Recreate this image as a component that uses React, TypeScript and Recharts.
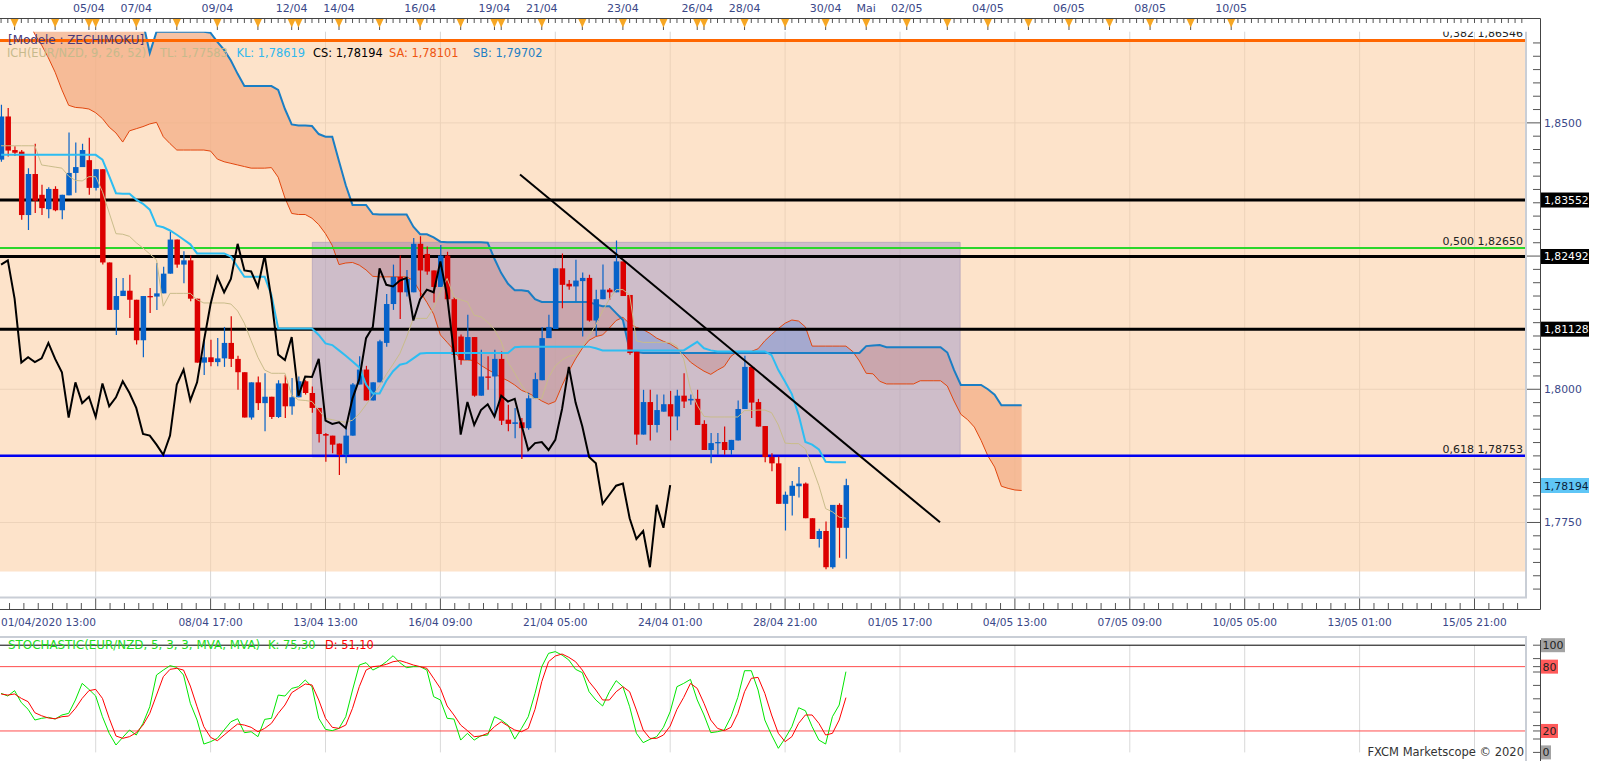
import React from 'react';
import {
  ComposedChart,
  Bar,
  Line,
  Area,
  XAxis,
  YAxis,
  ReferenceLine,
  ReferenceArea,
} from 'recharts';

// ---------- candles (4h bars, EUR/NZD) ----------
const OPEN = [
  1.8431, 1.8512, 1.8449, 1.8446, 1.8327, 1.8404, 1.8365, 1.8338, 1.8376, 1.8336,
  1.8364, 1.8406, 1.8417, 1.8430, 1.8378, 1.8413, 1.8238, 1.8149, 1.8175, 1.8185,
  1.8168, 1.8092, 1.8175, 1.8174, 1.8180, 1.8217, 1.8281, 1.8234, 1.8242, 1.8170,
  1.8050, 1.8060, 1.8051, 1.8058, 1.8087, 1.8057, 1.8032, 1.7947, 1.8013, 1.7974,
  1.7986, 1.7948, 1.8011, 1.7968, 1.7985, 1.8015, 1.7993, 1.7965, 1.7916, 1.7913,
  1.7898, 1.7877, 1.7913, 1.8009, 1.8037, 1.7979, 1.8013, 1.8087, 1.8160, 1.8211,
  1.8182, 1.8182, 1.8273, 1.8254, 1.8223, 1.8192, 1.8251, 1.8169, 1.8099, 1.8055,
  1.8098, 1.7988, 1.8024, 1.8024, 1.8057, 1.7943, 1.7935, 1.7938, 1.7927, 1.7983,
  1.8017, 1.8096, 1.8113, 1.8227, 1.8198, 1.8193, 1.8203, 1.8209, 1.8129, 1.8169,
  1.8187, 1.8182, 1.8240, 1.8177, 1.8071, 1.7915, 1.7976, 1.7933, 1.7958, 1.7972,
  1.7949, 1.7988, 1.7979, 1.7982, 1.7935, 1.7886, 1.7899, 1.7901, 1.7886, 1.7904,
  1.7963, 1.8042, 1.7976, 1.7931, 1.7873, 1.7861, 1.7785, 1.7800, 1.7818, 1.7823,
  1.7758, 1.7719, 1.7734, 1.7666, 1.7783, 1.7740,
];
const HIGH = [
  1.8534, 1.8528, 1.8456, 1.8449, 1.8415, 1.8461, 1.8384, 1.8379, 1.8381, 1.8365,
  1.8482, 1.8463, 1.8461, 1.8472, 1.8413, 1.8413, 1.8238, 1.8209, 1.8209, 1.8215,
  1.8168, 1.8175, 1.8190, 1.8237, 1.8230, 1.8296, 1.8281, 1.8259, 1.8251, 1.8170,
  1.8093, 1.8093, 1.8096, 1.8117, 1.8137, 1.8063, 1.8032, 1.8013, 1.8024, 1.8030,
  1.7986, 1.8017, 1.8027, 1.8021, 1.8024, 1.8017, 1.8005, 1.7965, 1.7918, 1.7913,
  1.7898, 1.7930, 1.8012, 1.8062, 1.8044, 1.8013, 1.8093, 1.8179, 1.8234, 1.8251,
  1.8224, 1.8284, 1.8287, 1.8268, 1.8223, 1.8271, 1.8258, 1.8173, 1.8103, 1.8140,
  1.8098, 1.8074, 1.8062, 1.8074, 1.8071, 1.7971, 1.7965, 1.7946, 1.7993, 1.8031,
  1.8117, 1.8140, 1.8227, 1.8255, 1.8205, 1.8243, 1.8219, 1.8215, 1.8187, 1.8234,
  1.8190, 1.8279, 1.8240, 1.8177, 1.8071, 1.7999, 1.7999, 1.7990, 1.7990, 1.7997,
  1.7999, 1.8030, 1.7990, 1.7999, 1.7942, 1.7918, 1.7918, 1.7930, 1.7905, 1.7979,
  1.8063, 1.8044, 1.7982, 1.7931, 1.7880, 1.7874, 1.7808, 1.7828, 1.7854, 1.7825,
  1.7758, 1.7738, 1.7752, 1.7783, 1.7786, 1.7832,
];
const LOW = [
  1.8427, 1.8437, 1.8438, 1.8318, 1.8299, 1.8331, 1.8327, 1.8321, 1.8334, 1.8319,
  1.8364, 1.8369, 1.8417, 1.8365, 1.8373, 1.8234, 1.8149, 1.8102, 1.8175, 1.8134,
  1.8084, 1.8060, 1.8143, 1.8149, 1.8180, 1.8217, 1.8228, 1.8199, 1.8165, 1.8050,
  1.8027, 1.8043, 1.8043, 1.8042, 1.8042, 1.7999, 1.7947, 1.7943, 1.7961, 1.7921,
  1.7944, 1.7946, 1.7946, 1.7952, 1.7985, 1.7990, 1.7956, 1.7900, 1.7864, 1.7880,
  1.7839, 1.7861, 1.7913, 1.8009, 1.7979, 1.7979, 1.8013, 1.8080, 1.8149, 1.8132,
  1.8174, 1.8182, 1.8174, 1.8215, 1.8163, 1.8192, 1.8164, 1.8059, 1.8046, 1.8055,
  1.7986, 1.7988, 1.7999, 1.7949, 1.7933, 1.7921, 1.7908, 1.7869, 1.7924, 1.7983,
  1.8017, 1.8096, 1.8113, 1.8152, 1.8187, 1.8165, 1.8099, 1.8127, 1.8100, 1.8169,
  1.8168, 1.8182, 1.8175, 1.8065, 1.7896, 1.7915, 1.7904, 1.7919, 1.7958, 1.7904,
  1.7923, 1.7965, 1.7971, 1.7933, 1.7886, 1.7861, 1.7877, 1.7877, 1.7877, 1.7904,
  1.7963, 1.7946, 1.7930, 1.7863, 1.7846, 1.7785, 1.7735, 1.7763, 1.7797, 1.7758,
  1.7719, 1.7703, 1.7662, 1.7663, 1.7684, 1.7682,
];
const CLOSE = [
  1.8512, 1.8448, 1.8444, 1.8327, 1.8404, 1.8354, 1.8340, 1.8376, 1.8336, 1.8365,
  1.8406, 1.8417, 1.8449, 1.8378, 1.8413, 1.8238, 1.8149, 1.8175, 1.8185, 1.8168,
  1.8092, 1.8175, 1.8173, 1.8180, 1.8217, 1.8281, 1.8234, 1.8242, 1.8170, 1.8050,
  1.8060, 1.8051, 1.8058, 1.8087, 1.8057, 1.8032, 1.7947, 1.8013, 1.7974, 1.7986,
  1.7948, 1.8011, 1.7968, 1.7985, 1.8015, 1.7993, 1.7965, 1.7916, 1.7913, 1.7896,
  1.7877, 1.7913, 1.8009, 1.8037, 1.7979, 1.8013, 1.8090, 1.8160, 1.8211, 1.8182,
  1.8207, 1.8273, 1.8223, 1.8221, 1.8192, 1.8251, 1.8169, 1.8065, 1.8055, 1.8098,
  1.7988, 1.8024, 1.8023, 1.8057, 1.7941, 1.7935, 1.7938, 1.7927, 1.7983, 1.8019,
  1.8096, 1.8117, 1.8227, 1.8196, 1.8193, 1.8204, 1.8209, 1.8129, 1.8169, 1.8187,
  1.8182, 1.8240, 1.8175, 1.8068, 1.7915, 1.7976, 1.7933, 1.7961, 1.7972, 1.7949,
  1.7988, 1.7977, 1.7982, 1.7933, 1.7886, 1.7899, 1.7901, 1.7886, 1.7905, 1.7963,
  1.8042, 1.7975, 1.7930, 1.7873, 1.7861, 1.7785, 1.7802, 1.7819, 1.7823, 1.7758,
  1.7719, 1.7734, 1.7666, 1.7783, 1.7740, 1.7820,
];

// ---------- ichimoku lines ----------
const TENKAN = [
  1.8457, 1.8457, 1.8457, 1.8457, 1.8457, 1.8457, 1.8421, 1.8419, 1.8417, 1.8415,
  1.8400, 1.8392, 1.8391, 1.8399, 1.8399, 1.8371, 1.8331, 1.8292, 1.8291, 1.8287,
  1.8275, 1.8265, 1.8254, 1.8243, 1.8156, 1.8180, 1.8180, 1.8180, 1.8180, 1.8168,
  1.8162, 1.8162, 1.8162, 1.8162, 1.8160, 1.8147, 1.8124, 1.8091, 1.8060, 1.8036,
  1.8030, 1.8030, 1.8030, 1.7989, 1.7980, 1.7979, 1.7977, 1.7961, 1.7945, 1.7943,
  1.7940, 1.7938, 1.7942, 1.7954, 1.7971, 1.7988, 1.8007, 1.8028, 1.8047, 1.8067,
  1.8098, 1.8133, 1.8133, 1.8133, 1.8153, 1.8183, 1.8208, 1.8173, 1.8168, 1.8164,
  1.8139, 1.8136, 1.8126, 1.8112, 1.8089, 1.8051, 1.8030, 1.8008, 1.7990, 1.7982,
  1.7983, 1.8022, 1.8044, 1.8055, 1.8062, 1.8064, 1.8080, 1.8100, 1.8121, 1.8147,
  1.8169, 1.8187, 1.8187, 1.8177, 1.8091, 1.8088, 1.8088, 1.8088, 1.8088, 1.8088,
  1.8081, 1.8057, 1.8000, 1.7970, 1.7949, 1.7948, 1.7948, 1.7948, 1.7948, 1.7948,
  1.7960, 1.7960, 1.7961, 1.7961, 1.7956, 1.7933, 1.7899, 1.7898, 1.7898, 1.7888,
  1.7854, 1.7819, 1.7776, 1.7770, 1.7760, 1.7758,
];
const KIJUN = [
  1.8440, 1.8440, 1.8440, 1.8440, 1.8440, 1.8440, 1.8440, 1.8440, 1.8440, 1.8440,
  1.8440, 1.8440, 1.8440, 1.8440, 1.8440, 1.8431, 1.8400, 1.8368, 1.8367, 1.8367,
  1.8356, 1.8348, 1.8337, 1.8307, 1.8304, 1.8298, 1.8290, 1.8281, 1.8272, 1.8255,
  1.8255, 1.8255, 1.8255, 1.8255, 1.8249, 1.8230, 1.8211, 1.8211, 1.8211, 1.8211,
  1.8177, 1.8114, 1.8114, 1.8114, 1.8114, 1.8114, 1.8114, 1.8102, 1.8086, 1.8083,
  1.8073, 1.8063, 1.8052, 1.8041, 1.8009, 1.7992, 1.7992, 1.8016, 1.8034, 1.8046,
  1.8049, 1.8058, 1.8067, 1.8068, 1.8068, 1.8068, 1.8068, 1.8068, 1.8068, 1.8068,
  1.8068, 1.8068, 1.8068, 1.8068, 1.8068, 1.8068, 1.8079, 1.8080, 1.8080, 1.8080,
  1.8080, 1.8080, 1.8080, 1.8080, 1.8080, 1.8080, 1.8080, 1.8080, 1.8077, 1.8073,
  1.8073, 1.8073, 1.8073, 1.8073, 1.8073, 1.8073, 1.8073, 1.8073, 1.8073, 1.8073,
  1.8073, 1.8073, 1.8081, 1.8089, 1.8077, 1.8073, 1.8071, 1.8071, 1.8071, 1.8071,
  1.8071, 1.8071, 1.8071, 1.8071, 1.8064, 1.8036, 1.8014, 1.7991, 1.7952, 1.7901,
  1.7896, 1.7887, 1.7864, 1.7863, 1.7863, 1.7863,
];
// senkou spans are already projected 26 bars ahead (152 values)
const SENKOU_A = [
  1.8712, 1.8712, 1.8712, 1.8712, 1.8693, 1.8666, 1.8646, 1.8622, 1.8595, 1.8562,
  1.8533, 1.8529, 1.8528, 1.8526, 1.8519, 1.8508, 1.8492, 1.8481, 1.8464, 1.8485,
  1.8489, 1.8493, 1.8498, 1.8501, 1.8474, 1.8461, 1.8449, 1.8449, 1.8449, 1.8449,
  1.8449, 1.8447, 1.8432, 1.8427, 1.8424, 1.8421, 1.8418, 1.8415, 1.8415, 1.8415,
  1.8416, 1.8398, 1.8359, 1.8330, 1.8328, 1.8328, 1.8321, 1.8309, 1.8292, 1.8270,
  1.8234, 1.8237, 1.8238, 1.8233, 1.8224, 1.8212, 1.8211, 1.8211, 1.8211, 1.8211,
  1.8211, 1.8204, 1.8183, 1.8163, 1.8141, 1.8102, 1.8088, 1.8074, 1.8055, 1.8055,
  1.8054, 1.8045, 1.8037, 1.8030, 1.8022, 1.8016, 1.8008, 1.7998, 1.7993, 1.7986,
  1.7978, 1.7972, 1.7977, 1.8007, 1.8034, 1.8057, 1.8077, 1.8092, 1.8099, 1.8102,
  1.8115, 1.8129, 1.8135, 1.8123, 1.8116, 1.8112, 1.8105, 1.8096, 1.8090, 1.8085,
  1.8077, 1.8065, 1.8051, 1.8042, 1.8034, 1.8028, 1.8036, 1.8043, 1.8062, 1.8071,
  1.8071, 1.8071, 1.8076, 1.8091, 1.8103, 1.8114, 1.8124, 1.8130, 1.8128, 1.8117,
  1.8081, 1.8081, 1.8081, 1.8081, 1.8081, 1.8081, 1.8071, 1.8053, 1.8030, 1.8029,
  1.8015, 1.8010, 1.8010, 1.8010, 1.8010, 1.8010, 1.8016, 1.8016, 1.8016, 1.8016,
  1.8006, 1.7978, 1.7953, 1.7943, 1.7929, 1.7904, 1.7875, 1.7854, 1.7818, 1.7814,
  1.7811, 1.7810,
];
const SENKOU_B = [
  1.8712, 1.8712, 1.8712, 1.8712, 1.8712, 1.8712, 1.8712, 1.8712, 1.8712, 1.8712,
  1.8712, 1.8712, 1.8712, 1.8712, 1.8712, 1.8712, 1.8712, 1.8712, 1.8712, 1.8712,
  1.8712, 1.8689, 1.8631, 1.8671, 1.8671, 1.8671, 1.8671, 1.8671, 1.8671, 1.8671,
  1.8671, 1.8669, 1.8652, 1.8637, 1.8617, 1.8592, 1.8569, 1.8569, 1.8569, 1.8569,
  1.8569, 1.8562, 1.8526, 1.8497, 1.8495, 1.8495, 1.8494, 1.8479, 1.8474, 1.8474,
  1.8428, 1.8383, 1.8346, 1.8346, 1.8346, 1.8329, 1.8328, 1.8328, 1.8328, 1.8328,
  1.8328, 1.8305, 1.8291, 1.8291, 1.8285, 1.8277, 1.8276, 1.8276, 1.8276, 1.8276,
  1.8276, 1.8276, 1.8275, 1.8245, 1.8218, 1.8198, 1.8186, 1.8186, 1.8184, 1.8169,
  1.8164, 1.8164, 1.8164, 1.8164, 1.8164, 1.8164, 1.8164, 1.8164, 1.8159, 1.8156,
  1.8156, 1.8143, 1.8130, 1.8073, 1.8070, 1.8068, 1.8068, 1.8068, 1.8068, 1.8068,
  1.8068, 1.8068, 1.8068, 1.8068, 1.8068, 1.8068, 1.8068, 1.8068, 1.8068, 1.8068,
  1.8068, 1.8068, 1.8068, 1.8068, 1.8068, 1.8068, 1.8068, 1.8068, 1.8068, 1.8068,
  1.8068, 1.8068, 1.8068, 1.8068, 1.8068, 1.8068, 1.8068, 1.8068, 1.8081, 1.8082,
  1.8083, 1.8079, 1.8079, 1.8079, 1.8079, 1.8079, 1.8079, 1.8079, 1.8079, 1.8079,
  1.8069, 1.8036, 1.8008, 1.8008, 1.8008, 1.8008, 1.8000, 1.7990, 1.7970, 1.7970,
  1.7970, 1.7970,
];
const CHIKOU_SHIFT = 26;
const HEADER_VALUES = [1.77583, 1.78619, 1.78194, 1.78101, 1.79702]; // TL KL CS SA SB

// ---------- stochastic (5,3,3) ----------
const STOCH_K = [
  55.1, 52.6, 57.6, 46.4, 40.2, 30.2, 31.8, 32.7, 31.1, 34.9,
  36.4, 48.9, 64.4, 58.8, 52.6, 33.3, 17.8, 6.9, 14.0, 20.9,
  16.2, 27.1, 42.6, 72.2, 76.8, 80.9, 79.3, 72.2, 45.8, 30.2,
  7.8, 10.0, 13.1, 20.9, 28.6, 31.4, 18.4, 19.3, 14.7, 30.8,
  31.8, 53.5, 52.6, 59.7, 61.3, 67.5, 61.3, 31.8, 21.5, 20.3,
  22.4, 33.3, 58.2, 81.5, 83.7, 76.8, 80.0, 84.6, 90.2, 83.7,
  79.0, 80.0, 80.0, 76.8, 52.0, 48.9, 31.8, 31.1, 11.5, 17.8,
  11.5, 15.6, 16.2, 33.3, 30.2, 25.5, 12.4, 22.4, 33.3, 55.1,
  80.0, 92.4, 94.0, 90.8, 86.2, 77.5, 74.4, 56.6, 48.9, 43.3,
  56.6, 66.9, 61.3, 42.6, 17.8, 9.1, 12.2, 14.7, 23.4, 38.0,
  61.3, 64.4, 68.1, 48.9, 34.9, 18.4, 19.3, 20.9, 33.3, 51.3,
  76.2, 76.2, 58.2, 30.2, 16.2, 3.8, 13.1, 24.0, 41.7, 38.9,
  24.0, 11.5, 7.8, 33.3, 44.2, 75.3,
];
const STOCH_D = [
  54.5, 53.5, 54.5, 50.4, 47.3, 37.0, 34.2, 32.1, 31.4, 33.3,
  33.9, 41.1, 50.4, 57.6, 58.8, 50.4, 31.8, 15.3, 13.1, 14.7,
  18.4, 25.5, 36.4, 53.5, 70.6, 77.5, 78.4, 76.8, 61.9, 42.6,
  24.0, 14.0, 10.9, 16.2, 21.5, 26.5, 25.5, 23.4, 19.3, 22.4,
  27.1, 36.4, 44.2, 55.7, 59.7, 63.8, 62.9, 48.9, 31.8, 23.4,
  22.4, 25.5, 41.1, 61.3, 76.8, 80.0, 80.6, 82.1, 84.6, 85.6,
  83.7, 81.5, 80.0, 78.4, 69.1, 59.7, 43.3, 34.9, 25.5, 20.3,
  14.7, 15.3, 17.8, 24.0, 28.6, 24.6, 20.9, 19.3, 22.4, 40.2,
  66.0, 84.6, 89.9, 91.8, 88.7, 84.6, 76.8, 66.0, 58.2, 48.9,
  48.9, 56.6, 61.3, 56.6, 39.5, 20.9, 13.1, 13.1, 16.2, 24.6,
  40.2, 51.3, 64.4, 59.7, 45.8, 30.2, 22.4, 20.3, 23.4, 36.4,
  56.6, 69.1, 70.0, 55.1, 34.9, 17.8, 10.0, 14.7, 27.1, 34.9,
  34.9, 27.1, 16.2, 17.8, 30.2, 51.1,
];
const STOCH_BANDS = [20, 80];

// ---------- drawn objects ----------
const PIVOTS = [1.83552, 1.82492, 1.81128];
const FIB_PRICES = [1.86546, 1.8265, 1.78753];
const FIB_RATIOS = ['0,382', '0,500', '0,618'];
const FIB_ZONE = [1.7658, 1.86546];
const BOX_X = [46.05, 141.9];
const BOX_Y = [1.78728, 1.82758];
const TREND = [
  [76.78, 1.84031],
  [138.92, 1.77503],
];
const LAST_PRICE = 1.78194;
const PRICE_GRID = [1.775, 1.8, 1.825, 1.85];

// ---------- time axis ----------
const DAY_STARTS = [2, 8, 13, 14, 20, 26, 32, 38, 43, 44, 50, 56, 62, 68, 73, 74, 80, 86, 92, 98,
  103, 104, 110, 116, 122, 128, 134, 140, 146, 152, 158, 164, 170, 176, 182];
const TOP_LABEL_BARS = [13, 20, 32, 43, 50, 62, 73, 80, 92, 103, 110, 122, 128, 134, 146, 158, 170, 182];
const TOP_LABELS = ['05/04', '07/04', '09/04', '12/04', '14/04', '16/04', '19/04', '21/04', '23/04',
  '26/04', '28/04', '30/04', 'Mai', '02/05', '04/05', '06/05', '08/05', '10/05'];
const BOTTOM_LABEL_BARS = [14, 31, 48, 65, 82, 99, 116, 133, 150, 167, 184, 201, 218];
const BOTTOM_LABELS = ['01/04/2020 13:00', '08/04 17:00', '13/04 13:00', '16/04 09:00', '21/04 05:00',
  '24/04 01:00', '28/04 21:00', '01/05 17:00', '04/05 13:00', '07/05 09:00', '10/05 05:00',
  '13/05 01:00', '15/05 21:00'];

// ---------- layout ----------
const W = 1598;
const MAIN_H = 640;
const PLOT_R = 1525;
const AXIS_X = 1540.5;
const X_DOMAIN: [number, number] = [-0.158, 225.47];
const Y_DOMAIN: [number, number] = [1.76107, 1.86711];
const FONT = '"DejaVu Sans", Verdana, sans-serif';
const AXIS_TXT = '#3a4888';
const HEAD_FS = 11.4;

const fmt = (v: number, d = 5) => v.toFixed(d).replace('.', ',');

const TOP_TICKS = Array.from({ length: 226 }, (_, i) => i);
const BOTTOM_TICKS = Array.from({ length: 106 }, (_, m) => 14 + 2.125 * (m - 6));
const PRICE_TICKS = [
  ...Array.from({ length: 42 }, (_, k) => Math.round((1.7625 + 0.0025 * k) * 1e4) / 1e4),
  ...PIVOTS,
  LAST_PRICE,
];
const STOCH_TICKS = [0, 12.5, 20, 25, 37.5, 50, 62.5, 75, 80, 87.5, 100];

const Candle = (props: any) => {
  const { x, y, width, height, payload } = props;
  if (!payload || payload.open == null || !Number.isFinite(y) || !Number.isFinite(height)) return null;
  const top = Math.min(y, y + height);
  const h = Math.abs(height);
  const { open, close, high, low } = payload;
  const span = high - low;
  const toY = (v: number) => (span > 0 ? top + ((high - v) / span) * h : top);
  const color = close >= open ? '#0762c8' : '#dc0000';
  const cx = x + width / 2;
  const bTop = toY(Math.max(open, close));
  const bBot = toY(Math.min(open, close));
  return (
    <g>
      <line x1={cx} x2={cx} y1={top} y2={top + h} stroke={color} strokeWidth={1.2} />
      <rect x={x} y={bTop} width={width} height={Math.max(1.3, bBot - bTop)} fill={color} />
    </g>
  );
};

const TopTick = (props: any) => {
  const { x, payload } = props;
  const v = payload.value;
  const li = TOP_LABEL_BARS.indexOf(v);
  const isDay = DAY_STARTS.includes(v);
  return (
    <g>
      <line x1={x} x2={x} y1={18.5} y2={isDay ? 30 : 23} stroke="#555" strokeWidth={1} />
      {isDay && <path d={`M${x - 4},19 L${x + 4},19 L${x},27.5 Z`} fill="#f6a623" />}
      {li >= 0 && (
        <text x={x} y={12} textAnchor="middle" fontSize={11} fill={AXIS_TXT} fontFamily={FONT}>
          {TOP_LABELS[li]}
        </text>
      )}
    </g>
  );
};

const BottomTick = (props: any) => {
  const { x, payload } = props;
  const v = payload.value;
  const li = BOTTOM_LABEL_BARS.indexOf(v);
  const major = li >= 0;
  return (
    <g>
      <line x1={x} x2={x} y1={major ? 597 : 603} y2={609} stroke="#555" strokeWidth={1} />
      {major && (
        <text
          x={li === 0 ? 1 : x}
          y={626}
          textAnchor={li === 0 ? 'start' : 'middle'}
          fontSize={10.6}
          fill={AXIS_TXT}
          fontFamily={FONT}
        >
          {BOTTOM_LABELS[li]}
        </text>
      )}
    </g>
  );
};

const PriceTick = (props: any) => {
  const { y, payload } = props;
  const v = payload.value;
  const isPivot = PIVOTS.includes(v);
  const isLast = v === LAST_PRICE;
  if (isPivot || isLast) {
    return (
      <g>
        <rect x={1541} y={y - 7.5} width={48} height={15} fill={isLast ? '#5fc6f6' : '#000'} />
        <text x={1544} y={y + 4} fontSize={10.8} fill={isLast ? '#0b1e3a' : '#fff'} fontFamily={FONT}>
          {fmt(v)}
        </text>
      </g>
    );
  }
  const major = Math.round(v * 1e4) % 250 === 0;
  const hidden = [...PIVOTS, LAST_PRICE].some((p) => Math.abs(p - v) < 0.0015);
  return (
    <g>
      <line x1={major ? 1526 : 1533} x2={AXIS_X} y1={y} y2={y} stroke="#555" strokeWidth={1} />
      {major && !hidden && (
        <text x={1544} y={y + 4} fontSize={10.8} fill={AXIS_TXT} fontFamily={FONT}>
          {fmt(v, 4)}
        </text>
      )}
    </g>
  );
};

const StochTick = (props: any) => {
  const { y, payload } = props;
  const v = payload.value;
  const labelled = v === 0 || v === 20 || v === 80 || v === 100;
  const red = v === 20 || v === 80;
  const txt = String(v);
  return (
    <g>
      <line x1={1533} x2={AXIS_X} y1={y} y2={y} stroke="#555" strokeWidth={1} />
      {labelled && (
        <g>
          <rect x={1541} y={y - 7} width={txt.length * 7 + 3} height={14} fill={red ? '#ff5a5a' : '#a3a3a3'} />
          <text x={1542.5} y={y + 4} fontSize={11} fill="#222" fontFamily={FONT}>
            {txt}
          </text>
        </g>
      )}
    </g>
  );
};

const fibLabel = (text: string) => (p: any) => {
  const vb = p.viewBox || {};
  return (
    <text x={(vb.x || 0) + (vb.width || 0) - 2} y={(vb.y || 0) - 3} textAnchor="end" fontSize={11} fill="#222" fontFamily={FONT}>
      {text}
    </text>
  );
};

export default function App() {
  const rows = SENKOU_A.map((sa, i) => ({
    i,
    open: i < OPEN.length ? OPEN[i] : null,
    high: i < HIGH.length ? HIGH[i] : null,
    low: i < LOW.length ? LOW[i] : null,
    close: i < CLOSE.length ? CLOSE[i] : null,
    tenkan: i < TENKAN.length ? TENKAN[i] : null,
    kijun: i < KIJUN.length ? KIJUN[i] : null,
    chikou: i + CHIKOU_SHIFT < CLOSE.length ? CLOSE[i + CHIKOU_SHIFT] : null,
    sa,
    sb: SENKOU_B[i],
  }));
  const stochRows = STOCH_K.map((k, i) => ({ i, k, d: STOCH_D[i] }));
  const fibColors = ['#ff6600', '#2bd62b', '#0000f0'];
  const fibWidths = [3, 2, 2.5];

  return (
    <div style={{ position: 'absolute', left: 0, top: 0, width: W, height: 761, background: '#fff', overflow: 'hidden' }}>
      <div style={{ position: 'absolute', left: 0, top: 0 }}>
        <ComposedChart width={W} height={MAIN_H} data={rows} margin={{ top: 0, right: 0, bottom: 0, left: 0 }}>
          <XAxis
            dataKey="i"
            type="number"
            domain={X_DOMAIN}
            allowDataOverflow
            ticks={BOTTOM_TICKS}
            interval={0}
            height={43.3}
            axisLine={false}
            tickLine={false}
            tick={(p: any) => <BottomTick {...p} />}
          />
          <XAxis
            xAxisId="top"
            dataKey="i"
            type="number"
            orientation="top"
            domain={X_DOMAIN}
            allowDataOverflow
            ticks={TOP_TICKS}
            interval={0}
            height={31.7}
            axisLine={false}
            tickLine={false}
            tick={(p: any) => <TopTick {...p} />}
          />
          <YAxis
            type="number"
            orientation="right"
            domain={Y_DOMAIN}
            allowDataOverflow
            ticks={PRICE_TICKS}
            interval={0}
            width={W - PLOT_R}
            axisLine={false}
            tickLine={false}
            tick={(p: any) => <PriceTick {...p} />}
          />

          {BOTTOM_LABEL_BARS.map((b) => (
            <ReferenceLine key={`vg${b}`} x={b} stroke="#d6d6d6" strokeWidth={1} zIndex={1} />
          ))}
          {PRICE_GRID.map((p) => (
            <ReferenceLine key={`hg${p}`} y={p} stroke="#d6d6d6" strokeWidth={1} zIndex={1} />
          ))}
          <ReferenceArea y1={FIB_ZONE[0]} y2={FIB_ZONE[1]} fill="#fbd0a6" fillOpacity={0.6} stroke="none" zIndex={2} />

          <Area
            type="linear"
            dataKey={(d: any) => [d.sa, Math.max(d.sa, d.sb)]}
            fill="#f3ad86"
            fillOpacity={0.75}
            stroke="none"
            isAnimationActive={false}
            zIndex={3}
          />
          <Area
            type="linear"
            dataKey={(d: any) => [d.sb, Math.max(d.sa, d.sb)]}
            fill="#9fb7d8"
            fillOpacity={0.8}
            stroke="none"
            isAnimationActive={false}
            zIndex={3}
          />
          <ReferenceArea
            x1={BOX_X[0]}
            x2={BOX_X[1]}
            y1={BOX_Y[0]}
            y2={BOX_Y[1]}
            fill="#948ec8"
            fillOpacity={0.45}
            stroke="#a898b8"
            strokeOpacity={0.6}
            zIndex={4}
          />

          <Line type="linear" dataKey="sa" stroke="#e2470f" strokeWidth={1} dot={false} isAnimationActive={false} zIndex={5} />
          <Line type="linear" dataKey="sb" stroke="#1a7ec4" strokeWidth={2} dot={false} isAnimationActive={false} zIndex={5} />

          {PIVOTS.map((p) => (
            <ReferenceLine key={`pv${p}`} y={p} stroke="#000" strokeWidth={3} zIndex={6} />
          ))}
          {FIB_PRICES.map((p, k) => (
            <ReferenceLine
              key={`fb${p}`}
              y={p}
              stroke={fibColors[k]}
              strokeWidth={fibWidths[k]}
              zIndex={6}
              label={fibLabel(`${FIB_RATIOS[k]} ${fmt(p)}`)}
            />
          ))}

          <Bar
            dataKey={(d: any) => (d.open == null ? null : [d.low, d.high])}
            barSize={5.5}
            isAnimationActive={false}
            shape={(p: any) => <Candle {...p} />}
            zIndex={7}
          />

          <Line type="linear" dataKey="tenkan" stroke="#c9bc8a" strokeWidth={1} dot={false} isAnimationActive={false} zIndex={8} />
          <Line type="linear" dataKey="kijun" stroke="#2dbdf2" strokeWidth={2} dot={false} isAnimationActive={false} zIndex={8} />
          <Line type="linear" dataKey="chikou" stroke="#000" strokeWidth={2} dot={false} isAnimationActive={false} zIndex={8} />

          <ReferenceLine
            segment={[
              { x: TREND[0][0], y: TREND[0][1] },
              { x: TREND[1][0], y: TREND[1][1] },
            ]}
            stroke="#000"
            strokeWidth={2}
            zIndex={9}
          />
        </ComposedChart>
      </div>

      <div style={{ position: 'absolute', left: 0, top: 637 }}>
        <ComposedChart width={W} height={124} data={stochRows} margin={{ top: 8.2, right: 0, bottom: 8.6, left: 0 }}>
          <XAxis dataKey="i" type="number" domain={X_DOMAIN} allowDataOverflow hide />
          <YAxis
            type="number"
            orientation="right"
            domain={[0, 100]}
            ticks={STOCH_TICKS}
            interval={0}
            width={W - PLOT_R}
            axisLine={false}
            tickLine={false}
            tick={(p: any) => <StochTick {...p} />}
          />
          {BOTTOM_LABEL_BARS.map((b) => (
            <ReferenceLine key={`sg${b}`} x={b} stroke="#d9d9d9" strokeWidth={1} />
          ))}
          {STOCH_BANDS.map((v) => (
            <ReferenceLine key={`sb${v}`} y={v} stroke="#ff4d4d" strokeWidth={1} />
          ))}
          <ReferenceLine y={100} stroke="#000" strokeWidth={1} />
          <Line type="linear" dataKey="k" stroke="#00e600" strokeWidth={1} dot={false} isAnimationActive={false} />
          <Line type="linear" dataKey="d" stroke="#ff0000" strokeWidth={1} dot={false} isAnimationActive={false} />
        </ComposedChart>
      </div>

      <svg
        width={W}
        height={761}
        style={{ position: 'absolute', left: 0, top: 0, pointerEvents: 'none' }}
        fontFamily={FONT}
      >
        {/* the 0,382 label is cut by the top of the plot, as in the original */}
        <rect x={1380} y={23.5} width={146} height={8.2} fill="#fff" />

        {/* axis frames */}
        <line x1={0} x2={AXIS_X} y1={18.5} y2={18.5} stroke="#444" />
        <line x1={AXIS_X} x2={AXIS_X} y1={18.5} y2={609.5} stroke="#444" />
        <line x1={0} x2={AXIS_X} y1={609.5} y2={609.5} stroke="#444" />
        <line x1={1526} x2={1526} y1={31.7} y2={597.5} stroke="#c9ced6" strokeWidth={2} />
        <line x1={0} x2={1527} y1={597.5} y2={597.5} stroke="#c9ced6" strokeWidth={2} />
        <line x1={0} x2={1527} y1={637} y2={637} stroke="#c9ced6" strokeWidth={2} />
        <line x1={1526} x2={1526} y1={637} y2={761} stroke="#c9ced6" strokeWidth={2} />
        <line x1={AXIS_X} x2={AXIS_X} y1={640} y2={761} stroke="#444" />

        {/* indicator headers */}
        <text x={8} y={44} fontSize={11.9} fill="#4a3a7a">[Modele : ZECHIMOKU]</text>
        <text x={7} y={57} fontSize={HEAD_FS} fill="#c6ba8c">ICH(EUR/NZD, 9, 26, 52)</text>
        <text x={160} y={57} fontSize={HEAD_FS} fill="#c6ba8c">TL: {fmt(HEADER_VALUES[0])}</text>
        <text x={236.5} y={57} fontSize={HEAD_FS} fill="#30b8ee">KL: {fmt(HEADER_VALUES[1])}</text>
        <text x={313} y={57} fontSize={HEAD_FS} fill="#000">CS: {fmt(HEADER_VALUES[2])}</text>
        <text x={389} y={57} fontSize={HEAD_FS} fill="#ee5511">SA: {fmt(HEADER_VALUES[3])}</text>
        <text x={473} y={57} fontSize={HEAD_FS} fill="#1e7fc4">SB: {fmt(HEADER_VALUES[4])}</text>

        <text x={8} y={649} fontSize={11.9} fill="#22dd22">STOCHASTIC(EUR/NZD, 5, 3, 3, MVA, MVA)</text>
        <text x={268} y={649} fontSize={HEAD_FS} fill="#22dd22">K: {fmt(STOCH_K[STOCH_K.length - 1], 2)}</text>
        <text x={325} y={649} fontSize={HEAD_FS} fill="#ff0000">D: {fmt(STOCH_D[STOCH_D.length - 1], 2)}</text>

        <text x={1524} y={756} fontSize={11.5} fill="#333" textAnchor="end">FXCM Marketscope © 2020</text>
      </svg>
    </div>
  );
}
